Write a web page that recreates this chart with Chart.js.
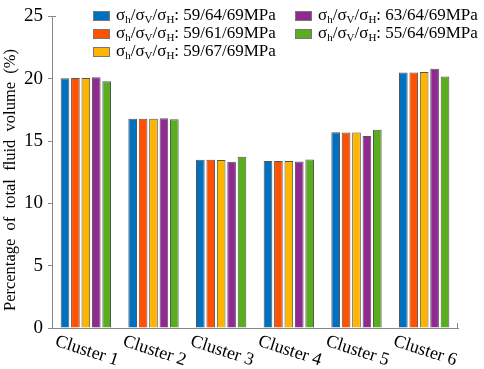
<!DOCTYPE html>
<html><head><meta charset="utf-8">
<script src="https://cdn.jsdelivr.net/npm/chart.js@4"></script>
<style>html,body{margin:0;padding:0;background:#fff}canvas{display:block}</style>
</head><body>
<canvas id="c" width="484" height="369"></canvas>
<script>
const categories = ["Cluster 1","Cluster 2","Cluster 3","Cluster 4","Cluster 5","Cluster 6"];
const seriesLabels = ["59/64/69MPa","59/61/69MPa","59/67/69MPa","63/64/69MPa","55/64/69MPa"];
const s1 = [20.03, 16.78, 13.50, 13.40, 15.70, 20.50];
const s2 = [20.05, 16.78, 13.50, 13.40, 15.68, 20.50];
const s3 = [20.05, 16.78, 13.48, 13.40, 15.68, 20.53];
const s4 = [20.12, 16.83, 13.33, 13.35, 15.40, 20.80];
const s5 = [19.80, 16.75, 13.73, 13.52, 15.90, 20.17];
const yTicks = [0,5,10,15,20,25];
const yTitle = "Percentage  of  total  fluid  volume  (%)";
const colors = ["#0070C0","#FF5100","#FFB400","#912A90","#5AAD1E"];

const serif = "'Liberation Serif','Times New Roman',serif";

const datasets = [s1,s2,s3,s4,s5].map((d,i)=>({
  label: seriesLabels[i], data: d, backgroundColor: colors[i],
  borderColor: "#555555", borderWidth: 1,
  categoryPercentage: 0.77, barPercentage: 0.83
}));

function drawSigmaLabel(ctx, x, y, value){
  const big = "17px " + serif, small = "11px " + serif;
  const parts = [["σ",0],["h",1],["/σ",0],["V",1],["/σ",0],["H",1],[": " + value,0]];
  let cx = x;
  for (const [t,sub] of parts){
    ctx.font = sub ? small : big;
    ctx.fillText(t, cx, sub ? y + 4 : y);
    cx += ctx.measureText(t).width;
  }
}

const customDraw = {
  id: "customDraw",
  afterDraw(chart){
    const ctx = chart.ctx;
    const xs = chart.scales.x, ys = chart.scales.y;
    ctx.save();
    // y title
    ctx.fillStyle = "#000";
    ctx.font = "16.5px " + serif;
    ctx.textAlign = "center"; ctx.textBaseline = "middle";
    ctx.save();
    ctx.translate(11, 180);
    ctx.rotate(-Math.PI/2);
    ctx.fillText(yTitle, 0, 0);
    ctx.restore();
    // x labels rotated clockwise
    ctx.font = "18px " + serif;
    categories.forEach((c,i)=>{
      const px = xs.getPixelForValue(i);
      ctx.save();
      ctx.translate(px + 1, 351);
      ctx.rotate(18*Math.PI/180);
      ctx.fillText(c, 0, 0);
      ctx.restore();
    });
    // axis end ticks
    ctx.strokeStyle = "#888"; ctx.lineWidth = 1;
    ctx.beginPath();
    ctx.moveTo(Math.round(xs.right)-0.5, ys.bottom);
    ctx.lineTo(Math.round(xs.right)-0.5, ys.bottom - 5);
    ctx.moveTo(xs.left, Math.round(ys.top)+0.5);
    ctx.lineTo(xs.left + 4, Math.round(ys.top)+0.5);
    ctx.stroke();
    // legend
    const pos = [[93,16],[93,34],[93,52],[295,16],[295,34]];
    ctx.textAlign = "left"; ctx.textBaseline = "middle";
    chart.data.datasets.forEach((ds,i)=>{
      const [lx,ly] = pos[i];
      ctx.fillStyle = ds.backgroundColor;
      ctx.fillRect(lx, ly-5, 17, 10);
      ctx.strokeStyle = "#777";
      ctx.strokeRect(lx+0.5, ly-4.5, 16, 9);
      ctx.fillStyle = "#000";
      drawSigmaLabel(ctx, lx + 23, ly, ds.label);
    });
    ctx.restore();
  }
};

new Chart(document.getElementById("c"), {
  type: "bar",
  data: { labels: categories, datasets },
  options: {
    responsive: false, animation: false,
    layout: { padding: { top: 8, right: 26, left: 0, bottom: 0 } },
    plugins: { legend: { display: false }, tooltip: { enabled: false } },
    scales: {
      x: {
        grid: { display: false },
        border: { color: "#888", width: 1 },
        ticks: { display: false },
        afterFit: s => { s.height = 41; }
      },
      y: {
        min: 0, max: 25,
        afterBuildTicks: s => { s.ticks = yTicks.map(v=>({value:v})); },
        grid: { drawOnChartArea: false, drawTicks: true, tickLength: 4, color: "#888" },
        border: { color: "#888", width: 1 },
        ticks: { font: { family: serif, size: 19 }, color: "#000", padding: 5 },
        title: { display: false },
        afterFit: s => { s.width = 52; }
      }
    }
  },
  plugins: [customDraw]
});
</script>
</body></html>
